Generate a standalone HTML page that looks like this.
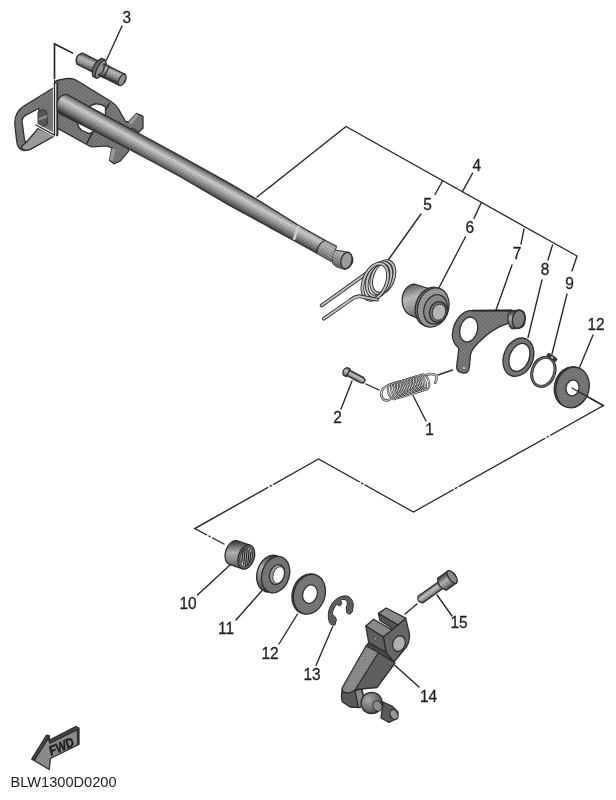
<!DOCTYPE html>
<html><head><meta charset="utf-8"><title>BLW1300D0200</title>
<style>
html,body{margin:0;padding:0;background:#fff;}
svg{display:block;}
text{font-family:"Liberation Sans",Arial,sans-serif;fill:#1c1c1c;}
#labels text{stroke:#1c1c1c;stroke-width:0.3;}
.l{stroke:#262626;stroke-width:1.35;fill:none;stroke-linecap:round;}
.o{stroke:#2e2e2e;stroke-width:1.3;stroke-linejoin:round;}
</style></head><body>
<svg width="616" height="800" viewBox="0 0 616 800">
<defs>
<pattern id="dots" width="4" height="4" patternUnits="userSpaceOnUse"><rect width="4" height="4" fill="#6f6f6f"/><circle cx="1" cy="1" r="0.6" fill="#9a9a9a"/><circle cx="3" cy="3" r="0.6" fill="#9a9a9a"/></pattern>
<pattern id="dotsL" width="3" height="3" patternUnits="userSpaceOnUse"><rect width="3" height="3" fill="#858585"/><circle cx="1" cy="1" r="0.6" fill="#b0b0b0"/></pattern>
<pattern id="dotsD" width="4" height="4" patternUnits="userSpaceOnUse"><rect width="4" height="4" fill="#5a5a5a"/><circle cx="1" cy="1" r="0.6" fill="#808080"/></pattern>
<linearGradient id="cyl" x1="0" y1="0" x2="0" y2="1"><stop offset="0" stop-color="#2c2c2c"/><stop offset="0.14" stop-color="#5a5a5a"/><stop offset="0.42" stop-color="#b0b0b0"/><stop offset="0.72" stop-color="#858585"/><stop offset="0.9" stop-color="#5a5a5a"/><stop offset="1" stop-color="#333"/></linearGradient>
<pattern id="dotsO" width="3" height="3" patternUnits="userSpaceOnUse" patternTransform="rotate(-28.8)"><circle cx="1" cy="1" r="0.55" fill="#fff" fill-opacity="0.28"/><circle cx="2.5" cy="2.5" r="0.5" fill="#000" fill-opacity="0.18"/></pattern>
<radialGradient id="ball" cx="0.35" cy="0.35" r="0.8"><stop offset="0" stop-color="#a8a8a8"/><stop offset="0.5" stop-color="#767676"/><stop offset="1" stop-color="#3a3a3a"/></radialGradient>
<linearGradient id="cylS" gradientUnits="userSpaceOnUse" x1="185.3" y1="156.4" x2="174.7" y2="175.6"><stop offset="0" stop-color="#1e1e1e"/><stop offset="0.1" stop-color="#3e3e3e"/><stop offset="0.22" stop-color="#808080"/><stop offset="0.42" stop-color="#cacaca"/><stop offset="0.62" stop-color="#a0a0a0"/><stop offset="0.85" stop-color="#626262"/><stop offset="1" stop-color="#2a2a2a"/></linearGradient>
<linearGradient id="cylL" x1="0" y1="0" x2="0" y2="1"><stop offset="0" stop-color="#555"/><stop offset="0.35" stop-color="#c0c0c0"/><stop offset="0.7" stop-color="#999"/><stop offset="1" stop-color="#555"/></linearGradient>
<pattern id="dotsA" width="4" height="4" patternUnits="userSpaceOnUse"><rect width="4" height="4" fill="#868686"/><circle cx="1" cy="1" r="0.6" fill="#a8a8a8"/><circle cx="3" cy="3" r="0.6" fill="#a8a8a8"/></pattern>
<pattern id="knurl" width="2.6" height="2.6" patternUnits="userSpaceOnUse" patternTransform="rotate(28)"><rect width="2.6" height="2.6" fill="#c8c8c8" fill-opacity="0.45"/><path d="M0,0 L2.6,0 M0,0 L0,2.6" stroke="#222" stroke-width="0.7" stroke-opacity="0.55"/></pattern>
<filter id="soft" x="0" y="0" width="616" height="800" filterUnits="userSpaceOnUse"><feGaussianBlur stdDeviation="0.45"/></filter>
<linearGradient id="cylM" x1="0" y1="0" x2="0.25" y2="1"><stop offset="0" stop-color="#3a3a3a"/><stop offset="0.15" stop-color="#6e6e6e"/><stop offset="0.4" stop-color="#b8b8b8"/><stop offset="0.7" stop-color="#909090"/><stop offset="0.9" stop-color="#626262"/><stop offset="1" stop-color="#3a3a3a"/></linearGradient>
</defs>
<rect width="616" height="800" fill="#fff"/>
<g id="all" filter="url(#soft)">
<!--LINES-->
<g id="lines" class="l">
<path d="M72.5,53 L54.5,43.8 L54.5,78.6"/>
<path d="M122,26 L106.5,60"/>
<path d="M257,197 L346,126.5 L577,256 L572,271"/>
<path d="M472.6,173.2 L462.4,191.6"/>
<path d="M442.5,181 L435,194.5"/>
<path d="M421,214 L387.5,261"/>
<path d="M481,203.2 L474,218.4"/>
<path d="M465.5,236.8 L436.5,292.5"/>
<path d="M524,229 L521,244"/>
<path d="M512,265 L496,310"/>
<path d="M552.5,245 L548,260"/>
<path d="M542,280 L528,337.5"/>
<path d="M567,294 L552,354"/>
<path d="M593,335 L579.5,367.5"/>
<path d="M572,388 L603.4,405.6 L413.4,512 L318.5,459 L194.8,528.6 L224,544"/>
<path d="M341,409 L352,381"/>
<path d="M366,384 L379,390"/>
<path d="M413,395.5 L426,421"/>
<path d="M438,375 L452.5,370"/>
<path d="M197.5,595 L230,565"/>
<path d="M236,620 L262.5,590"/>
<path d="M279,644 L297.5,614"/>
<path d="M316,665.5 L332.7,626.5"/>
<path d="M419,687 L395,665.4"/>
<path d="M452,616 L437,595"/>
<path d="M405,614 L417,604"/>
</g>
<g id="gaps">
<path d="M550.1,435.5 L545.3,438.1" stroke="#fff" stroke-width="2.6" fill="none"/><path d="M548.3,436.5 L547.1,437.1" class="l"/>
<path d="M458.5,486.7 L453.7,489.4" stroke="#fff" stroke-width="2.6" fill="none"/><path d="M456.7,487.7 L455.5,488.4" class="l"/>
<path d="M364.5,484.7 L359.7,482.0" stroke="#fff" stroke-width="2.6" fill="none"/><path d="M362.7,483.7 L361.5,483.0" class="l"/>
<path d="M273.1,484.5 L268.3,487.2" stroke="#fff" stroke-width="2.6" fill="none"/><path d="M271.3,485.6 L270.1,486.2" class="l"/>
<path d="M207.1,535.1 L212.0,537.6" stroke="#fff" stroke-width="2.6" fill="none"/><path d="M208.9,536.0 L210.1,536.7" class="l"/>
</g>
<!--LABELS-->
<g id="labels" font-size="16.6" text-anchor="middle" opacity="0.99">
<text transform="translate(126.7,23.4) scale(0.93,1)">3</text>
<text transform="translate(476.7,170.9) scale(0.93,1)">4</text>
<text transform="translate(427.5,209.9) scale(0.93,1)">5</text>
<text transform="translate(469.8,233.1) scale(0.93,1)">6</text>
<text transform="translate(517.0,259.4) scale(0.93,1)">7</text>
<text transform="translate(545.0,275.4) scale(0.93,1)">8</text>
<text transform="translate(569.5,289.4) scale(0.93,1)">9</text>
<text transform="translate(596.0,329.9) scale(0.93,1)">12</text>
<text transform="translate(337.5,423.4) scale(0.93,1)">2</text>
<text transform="translate(429.5,434.9) scale(0.93,1)">1</text>
<text transform="translate(188.0,609.4) scale(0.93,1)">10</text>
<text transform="translate(226.0,634.4) scale(0.93,1)">11</text>
<text transform="translate(270.0,659.4) scale(0.93,1)">12</text>
<text transform="translate(312.0,680.4) scale(0.93,1)">13</text>
<text transform="translate(428.6,702.4) scale(0.93,1)">14</text>
<text transform="translate(459.0,628.4) scale(0.93,1)">15</text>
</g>
<text x="10.5" y="787" font-size="15" textLength="106" lengthAdjust="spacingAndGlyphs" opacity="0.99">BLW1300D0200</text>
<!--PARTS-->
<g id="parts">
<!--A-->
<!--PLATE & LOOP-->
<g id="plate" class="o">
<!-- loop handle -->
<path fill="url(#dots)" fill-rule="evenodd" d="M54,87.5 L24.3,105.7 Q15,111.5 14.7,122.7 L16.5,140 Q17.5,150.5 24.3,150.6 Q28,150.6 31,148.9 L54,136 Z M39,108.2 L25,115.6 Q22,117.5 22,121 L24.4,139 Q25,142.8 27.2,141.6 L38.5,129 Z"/>
<path fill="#585858" stroke-width="0.9" d="M38,112 L42.5,109.5 L46.5,111 L47.5,124 L43,126.8 L38,124.5 Z"/><path fill="#8e8e8e" stroke="none" d="M38.6,118.2 L46.8,115 L47,117.4 L38.6,120.6 Z"/>
<path fill="#999" class="o" d="M38.2,128.4 L54.5,136 L30,149.5 Q24,152 21,147 L26.6,142 Z"/>
<!-- main plate -->
<path fill="url(#dots)" fill-rule="evenodd" d="M54,135.5 L54,86 Q54,81 59,80 L66,78.7 Q72,78 76,80 L111,101.5 Q116,104.5 118.5,109 L125.5,121.5 L128.5,122 L136.5,113.4 L143,116.3 L143,128 L138.7,132.4 L132,128 L128,140 L128.5,151.4 L120.4,160.9 L113.9,163.8 L109.5,160.2 L112,148 L107,145.8 L93,146.8 Q90,146.6 88,145.2 L57.8,128.4 L57.5,135.5 L54,135.5 Z M88,110 Q89,105 95,104 Q101,103.5 105.5,107 L105.5,116 L96,116 Z M77,121 L96,130 L93,132.2 L89.5,133.6 L82,130.5 Q78.5,128 77.5,124 Z"/>
<path fill="#9a9a9a" stroke="none" d="M128.5,122 L136.5,113.4 L138.5,116 L131.5,124.5 Z M112,148.5 L115.5,149.5 L112.5,161 L109.5,160 Z"/>
<path class="l" d="M109.5,103 L105.8,109.7 M93,131.6 L86.8,143.5 M57.5,83 L57.5,134"/>
</g>
<!--SHAFT-->
<g id="shaft">
<path class="o" fill="url(#cylS)" d="M66.8,94.4 L100,112.6 L140,134 L180,155.8 L230,183.6 L260,201.2 L298,225 L325,240.3 L316.8,253.3 L293.3,240.3 L260,222 L230,205.7 L180,176.5 L140,155 L100,134 L60,114 Q55,108 57.5,101 Q61,94 66.8,94.4 Z"/>
<path fill="url(#dotsO)" stroke="none" d="M66.8,94.4 L100,112.6 L140,134 L180,155.8 L230,183.6 L260,201.2 L298,225 L325,240.3 L316.8,253.3 L293.3,240.3 L260,222 L230,205.7 L180,176.5 L140,155 L100,134 L60,114 Z"/>
<path d="M298.6,226 L293.8,239.8" stroke="#d0d0d0" stroke-width="2.6" fill="none"/>
<path class="o" fill="url(#cylS)" d="M325,240.3 L336.5,246.3 L331.4,261.4 L316.8,253.3 Q316,246 325,240.3 Z"/>
<path class="o" fill="url(#cylS)" d="M335,250.2 L348.5,252.3 Q353.5,256 352.6,262 Q350,268.5 344.4,269.2 L337,267 L333,263.5 Q330.8,257 335,250.2 Z"/>
<path fill="url(#knurl)" stroke="none" d="M325,240.3 L336.5,246.3 L331.4,261.4 L316.8,253.3 Z"/><path fill="url(#knurl)" stroke="none" d="M335,250.2 L348.5,252.3 L344.4,269.2 L337,267 L333,263.5 Q330.8,257 335,250.2 Z"/><ellipse cx="346.4" cy="260.6" rx="5.4" ry="8.4" transform="rotate(14 346.4 260.6)" class="o" fill="#9a9a9a"/>
</g>
<!--PIN 3-->
<g id="pin3" transform="translate(79.7,58.6) rotate(26.6)">
<path class="o" fill="url(#cylM)" d="M0,-6.2 L47.5,-6.2 Q50.8,-3 50.8,0 Q50.8,3 47.5,6.2 L0,6.2 Q-3.2,3 -3.2,0 Q-3.2,-3 0,-6.2 Z"/>
<path fill="url(#dotsO)" stroke="none" d="M0,-6.2 L47.5,-6.2 L47.5,6.2 L0,6.2 Z"/>
<path class="o" fill="#6a6a6a" d="M19.5,-10 L23.5,-10 Q27,-5 27,0 Q27,5 23.5,10 L19.5,10 Q16,5 16,0 Q16,-5 19.5,-10 Z"/>
<ellipse cx="23.5" cy="0" rx="3.6" ry="9.8" class="o" fill="#8e8e8e" stroke-width="0.9"/>
<path fill="url(#cylM)" class="o" stroke-width="0.9" d="M24,-6.2 L30,-6.2 L30,6.2 L24,6.2 Q26.5,3 26.5,0 Q26.5,-3 24,-6.2 Z"/>
<ellipse cx="47.5" cy="0" rx="3" ry="6.2" class="o" fill="#8f8f8f"/>
</g>
<!-- white-haloed leader over plate -->
<path d="M54.5,84 L54.5,135 L36,125" stroke="#fff" stroke-width="3.2" fill="none"/>
<path class="l" d="M72.5,53 L54.5,43.8 L54.5,78.6 M54.5,80.6 L54.5,81.6 M54.5,83.6 L54.5,135 L36,125"/>
<!--/A-->
<!--B-->
<!--SPRING 5-->
<g id="spring5" fill="none" stroke-linecap="round">
<g stroke="#2a2a2a" stroke-width="3.7"><path d="M365.5,274 L321.6,305.5"/></g><g stroke="#c4c4c4" stroke-width="1.9"><path d="M365.5,274 L321.6,305.5"/></g>
<g stroke="#2a2a2a" stroke-width="3.7"><ellipse cx="382.8" cy="277.3" rx="10.5" ry="17" transform="rotate(22 382.8 277.3)"/></g><g stroke="#c4c4c4" stroke-width="1.9"><ellipse cx="382.8" cy="277.3" rx="10.5" ry="17" transform="rotate(22 382.8 277.3)"/></g>
<g stroke="#2a2a2a" stroke-width="3.7"><ellipse cx="379" cy="279.5" rx="11" ry="18" transform="rotate(22 379 279.5)"/></g><g stroke="#c4c4c4" stroke-width="1.9"><ellipse cx="379" cy="279.5" rx="11" ry="18" transform="rotate(22 379 279.5)"/></g>
<g stroke="#2a2a2a" stroke-width="3.7"><ellipse cx="375.2" cy="281.7" rx="11.5" ry="19" transform="rotate(22 375.2 281.7)"/></g><g stroke="#c4c4c4" stroke-width="1.9"><ellipse cx="375.2" cy="281.7" rx="11.5" ry="19" transform="rotate(22 375.2 281.7)"/></g>
<g stroke="#2a2a2a" stroke-width="3.7"><path d="M377,299.6 Q366,297.5 359,296.2 Q354,297 350,300.4 L323.8,318.7"/></g><g stroke="#c4c4c4" stroke-width="1.9"><path d="M377,299.6 Q366,297.5 359,296.2 Q354,297 350,300.4 L323.8,318.7"/></g>
</g>
<!--COLLAR 6-->
<g id="collar6" class="o">
<path fill="url(#cylM)" d="M414.4,284.2 A12.5,16 0 0 0 412.7,316 L419,319.5 L430,323.5 L430,289 Z"/>
<path fill="url(#dotsO)" stroke="none" d="M414.4,284.2 A12.5,16 0 0 0 412.7,316 L419,319.5 L430,323.5 L430,289 Z"/>
<ellipse cx="431" cy="306.8" rx="15.3" ry="20" transform="rotate(18 431 306.8)" fill="#7c7c7c"/>
<ellipse cx="433.2" cy="307.5" rx="15.3" ry="20" transform="rotate(18 433.2 307.5)" fill="#959595"/>
<ellipse cx="433.2" cy="307.5" rx="15.3" ry="20" transform="rotate(18 433.2 307.5)" fill="url(#dotsO)" stroke="none"/>
<ellipse cx="435.5" cy="309.4" rx="11.4" ry="15" transform="rotate(18 435.5 309.4)" fill="#888"/>
<ellipse cx="438.3" cy="312" rx="8.8" ry="10.4" transform="rotate(18 438.3 312)" fill="#747474"/>
<ellipse cx="439" cy="312.2" rx="6.6" ry="8.2" transform="rotate(18 439 312.2)" fill="#b4b4b4" stroke-width="0.9"/>
</g>
<!--/B-->
<!--C-->
<!--LEVER 7-->
<g id="lever7" class="o">
<path fill="url(#dots)" d="M470,310.6 L513,310.3 L515,316 L508,323.4 Q493,328 479,342 Q472,349 470.6,354 L469.3,367.5 Q468.5,373.5 463.5,373.2 Q457,372.5 456.6,367 L458.9,348.2 Q452.5,343 452.3,335 Q453,323 460.5,315.5 Q465,311 470,310.6 Z"/>
<ellipse cx="468.7" cy="329.5" rx="8.8" ry="12.6" transform="rotate(15 468.7 329.5)" fill="#fff"/>
<path fill="#262626" stroke="none" d="M472,309.8 L512,309.6 L512,311.6 L472,311.6 Z"/>
<path fill="url(#cyl)" d="M508,318.5 Q507,313 512.5,311 L519.5,310 Q524.5,310.5 525.3,316.5 L524.8,322.5 Q523.8,327.5 518.5,328.3 L512,328.8 Q508.2,326 508,318.5 Z"/>
<ellipse cx="518.6" cy="319.2" rx="6.2" ry="9" transform="rotate(10 518.6 319.2)" fill="#7c7c7c"/>
<circle cx="464" cy="368" r="1" fill="#ddd" stroke="none"/>
</g>
<!--RING 8-->
<g id="ring8" class="o">
<ellipse cx="518.4" cy="357.2" rx="14.6" ry="19.8" transform="rotate(22 518.4 357.2)" fill="url(#dots)"/>
<ellipse cx="519.4" cy="357.4" rx="9.8" ry="14.6" transform="rotate(22 519.4 357.4)" fill="#fff"/>
</g>
<!--CIRCLIP 9-->
<g id="clip9" fill="none" stroke-linecap="round">
<ellipse cx="543.4" cy="371.8" rx="11.2" ry="15" transform="rotate(20 543.4 371.8)" stroke="#333" stroke-width="3"/>
<ellipse cx="543.4" cy="371.8" rx="11.2" ry="15" transform="rotate(20 543.4 371.8)" stroke="#808080" stroke-width="0.9"/>
<path d="M549,355.5 L552,357.3 L555,359.5" stroke="#333" stroke-width="4.6"/>
<path d="M551.6,357.2 L552.6,357.8" stroke="#fff" stroke-width="1.3"/>
</g>
<!--WASHER 12 upper-->
<g id="washer12a" class="o">
<ellipse cx="571" cy="387" rx="16.5" ry="20.5" transform="rotate(14 571 387)" fill="#4a4a4a"/>
<ellipse cx="572.5" cy="387.5" rx="16.5" ry="20.5" transform="rotate(14 572.5 387.5)" fill="url(#dots)"/>
<ellipse cx="572.5" cy="388" rx="6.5" ry="8" transform="rotate(14 572.5 388)" fill="#fff"/>
</g>
<path class="l" d="M572,388 L603.4,405.6"/>
<!--PIN 2-->
<g id="pin2" transform="translate(347.2,372.3) rotate(28)">
<path class="o" fill="url(#cylL)" d="M0,-3 L16.5,-3 L19.5,-1.8 L19.5,1.8 L16.5,3 L0,3 Z"/>
<path class="o" fill="url(#cylL)" d="M-2.3,-4.2 L1.2,-4.2 L1.2,4.2 L-2.3,4.2 Q-4.3,2 -4.3,0 Q-4.3,-2 -2.3,-4.2 Z"/>
</g>
<!--SPRING 1-->
<g id="spring1" fill="none" stroke-linecap="round">
<path d="M391.5,383 L423,374.3 L427.5,389.5 L394,399.5 Z" fill="#c4c4c4" stroke="none"/>
<g stroke="#303030" stroke-width="2.4"><path d="M392,397.5 Q388.5,401.5 384.8,400.2 Q380.2,398 381.6,391.5 Q384,385.2 392.5,384.6"/></g><g stroke="#cfcfcf" stroke-width="1.2"><path d="M392,397.5 Q388.5,401.5 384.8,400.2 Q380.2,398 381.6,391.5 Q384,385.2 392.5,384.6"/></g>
<g stroke="#303030" stroke-width="2.4"><path d="M425,375.3 Q432,372.8 435.5,375 Q438,378 435,382.8"/></g><g stroke="#cfcfcf" stroke-width="1.2"><path d="M425,375.3 Q432,372.8 435.5,375 Q438,378 435,382.8"/></g>
<g stroke="#303030" stroke-width="2.0"><ellipse cx="392.5" cy="391.6" rx="4.3" ry="8" transform="rotate(-17 392.5 391.6)"/></g><g stroke="#cfcfcf" stroke-width="0.9"><ellipse cx="392.5" cy="391.6" rx="4.3" ry="8" transform="rotate(-17 392.5 391.6)"/></g>
<g stroke="#303030" stroke-width="2.0"><ellipse cx="395.7" cy="390.6" rx="4.3" ry="8" transform="rotate(-17 395.7 390.6)"/></g><g stroke="#cfcfcf" stroke-width="0.9"><ellipse cx="395.7" cy="390.6" rx="4.3" ry="8" transform="rotate(-17 395.7 390.6)"/></g>
<g stroke="#303030" stroke-width="2.0"><ellipse cx="398.9" cy="389.7" rx="4.3" ry="8" transform="rotate(-17 398.9 389.7)"/></g><g stroke="#cfcfcf" stroke-width="0.9"><ellipse cx="398.9" cy="389.7" rx="4.3" ry="8" transform="rotate(-17 398.9 389.7)"/></g>
<g stroke="#303030" stroke-width="2.0"><ellipse cx="402.1" cy="388.7" rx="4.3" ry="8" transform="rotate(-17 402.1 388.7)"/></g><g stroke="#cfcfcf" stroke-width="0.9"><ellipse cx="402.1" cy="388.7" rx="4.3" ry="8" transform="rotate(-17 402.1 388.7)"/></g>
<g stroke="#303030" stroke-width="2.0"><ellipse cx="405.3" cy="387.8" rx="4.3" ry="8" transform="rotate(-17 405.3 387.8)"/></g><g stroke="#cfcfcf" stroke-width="0.9"><ellipse cx="405.3" cy="387.8" rx="4.3" ry="8" transform="rotate(-17 405.3 387.8)"/></g>
<g stroke="#303030" stroke-width="2.0"><ellipse cx="408.5" cy="386.8" rx="4.3" ry="8" transform="rotate(-17 408.5 386.8)"/></g><g stroke="#cfcfcf" stroke-width="0.9"><ellipse cx="408.5" cy="386.8" rx="4.3" ry="8" transform="rotate(-17 408.5 386.8)"/></g>
<g stroke="#303030" stroke-width="2.0"><ellipse cx="411.7" cy="385.8" rx="4.3" ry="8" transform="rotate(-17 411.7 385.8)"/></g><g stroke="#cfcfcf" stroke-width="0.9"><ellipse cx="411.7" cy="385.8" rx="4.3" ry="8" transform="rotate(-17 411.7 385.8)"/></g>
<g stroke="#303030" stroke-width="2.0"><ellipse cx="414.9" cy="384.9" rx="4.3" ry="8" transform="rotate(-17 414.9 384.9)"/></g><g stroke="#cfcfcf" stroke-width="0.9"><ellipse cx="414.9" cy="384.9" rx="4.3" ry="8" transform="rotate(-17 414.9 384.9)"/></g>
<g stroke="#303030" stroke-width="2.0"><ellipse cx="418.1" cy="383.9" rx="4.3" ry="8" transform="rotate(-17 418.1 383.9)"/></g><g stroke="#cfcfcf" stroke-width="0.9"><ellipse cx="418.1" cy="383.9" rx="4.3" ry="8" transform="rotate(-17 418.1 383.9)"/></g>
<g stroke="#303030" stroke-width="2.0"><ellipse cx="421.3" cy="383.0" rx="4.3" ry="8" transform="rotate(-17 421.3 383.0)"/></g><g stroke="#cfcfcf" stroke-width="0.9"><ellipse cx="421.3" cy="383.0" rx="4.3" ry="8" transform="rotate(-17 421.3 383.0)"/></g>
<g stroke="#303030" stroke-width="2.0"><ellipse cx="424.5" cy="382.0" rx="4.3" ry="8" transform="rotate(-17 424.5 382.0)"/></g><g stroke="#cfcfcf" stroke-width="0.9"><ellipse cx="424.5" cy="382.0" rx="4.3" ry="8" transform="rotate(-17 424.5 382.0)"/></g>
</g>
<!--/C-->
<!--D-->
<!--BEARING 10-->
<g id="bearing10" class="o">
<path fill="url(#cyl)" d="M236.7,540.7 A8,12.4 17.5 0 0 229.3,564.3 L242.6,568.8 L250,545.2 Z"/>
<path fill="url(#dotsO)" stroke="none" d="M236.7,540.7 A8,12.4 17.5 0 0 229.3,564.3 L242.6,568.8 L250,545.2 Z"/>
<ellipse cx="246.3" cy="557" rx="8" ry="12.4" transform="rotate(17.5 246.3 557)" fill="#6a6a6a"/>
<ellipse cx="246.2" cy="557" rx="5.8" ry="9.8" transform="rotate(17.5 246.2 557)" fill="#c8c8c8" stroke-width="0.8"/>
<path class="l" stroke-width="0.55" d="M243.2,550 L241.7,562 M245.2,548.8 L243.7,564.5 M247.2,548.5 L245.7,565.5 M249.2,549.5 L247.7,565 M251,552 L249.8,562"/>
</g>
<!--SEAL 11-->
<g id="seal11" class="o">
<ellipse cx="270.8" cy="573.6" rx="13.6" ry="18.8" transform="rotate(17.5 270.8 573.6)" fill="url(#cyl)"/>
<ellipse cx="275.6" cy="574.6" rx="13.6" ry="18.6" transform="rotate(17.5 275.6 574.6)" fill="url(#dots)"/>
<ellipse cx="277" cy="574.6" rx="7.4" ry="10.2" transform="rotate(17.5 277 574.6)" fill="#9c9c9c"/>
<ellipse cx="278.6" cy="575" rx="5.4" ry="8.6" transform="rotate(17.5 278.6 575)" fill="#fff" stroke-width="0.8"/>
</g>
<!--WASHER 12 lower-->
<g id="washer12b" class="o">
<ellipse cx="308" cy="593.8" rx="15.6" ry="20.3" transform="rotate(17.5 308 593.8)" fill="#4a4a4a"/>
<ellipse cx="309.4" cy="594.2" rx="15.6" ry="20.3" transform="rotate(17.5 309.4 594.2)" fill="url(#dots)"/>
<ellipse cx="310" cy="594.2" rx="7.2" ry="9.4" transform="rotate(17.5 310 594.2)" fill="#fff"/>
</g>
<!--ECLIP 13-->
<g id="clip13">
<path fill="#5c5c5c" stroke="#2a2a2a" stroke-width="1" stroke-linejoin="round" d="M330.9,624.6 C328,621 327.5,614 329.5,608.5 C332,601.5 338,596.5 344.5,595.8 C350,595.8 353.3,600 353.3,605.5 L352.3,612 L349.4,614.4 L346.6,612.5 L346.3,607 C348.5,603 347,600 344,599.3 C342.5,599.3 341.5,599.8 340.5,600.6 L342,603.2 L339.8,606 L336.8,604.3 C334.5,606.5 332.6,610.5 332.2,614.2 L334.8,616.4 L336.5,619.5 L334.8,625.2 Z"/>
</g>
<!--BOLT 15-->
<g id="bolt15" transform="translate(420.4,599.6) rotate(-35.5)">
<path class="o" fill="url(#cylL)" d="M0,-4 L26,-4 L26,4 L0,4 Q-2.2,2 -2.2,0 Q-2.2,-2 0,-4 Z"/>
<path fill="url(#dotsO)" stroke="none" d="M0,-4 L26,-4 L26,4 L0,4 Z"/>
<path class="o" fill="url(#cyl)" d="M26.5,-7.4 L39,-7.4 Q42.5,-3.5 42.5,0 Q42.5,3.5 39,7.4 L26.5,7.4 Q23.5,3.5 23.5,0 Q23.5,-3.5 26.5,-7.4 Z"/>
<path fill="url(#dotsO)" stroke="none" d="M26.5,-7.4 L39,-7.4 L39,7.4 L26.5,7.4 Z"/>
<ellipse cx="39" cy="0" rx="3.4" ry="7.4" class="o" fill="#8a8a8a"/>
</g>
<!--LEVER 14-->
<g id="lever14" class="o">
<!-- boss bottom -->
<path fill="#5a5a5a" d="M342.4,688 Q340.5,698 342.5,702 L350,707 L360,707.5 L364,700 L362,689 Z"/>
<!-- arm side (dark) -->
<path fill="#5e5e5e" d="M378.5,652.5 L395,663 L377,687.5 L361,689 L354,690 Z"/>
<!-- under front -->
<path fill="#484848" d="M368.7,642.6 L386.2,652.3 L394,662 L378.5,652.5 L366,646 Z"/>
<!-- arm top (light) -->
<path fill="url(#dotsL)" d="M366,646 L378.5,652.5 L355,690 Q350,694 344.5,692.5 Q341.5,690.5 342.4,687.5 Z"/>
<!-- clamp block right side face -->
<path fill="#666" d="M383.3,636.8 L392,630 L398,624.7 L405.7,618.2 L409.6,634.8 Q409.5,642 406.7,646.5 L394,662 L386.2,652.3 Z"/>
<!-- front face -->
<path fill="#606060" d="M365.8,626 L383.3,636.8 L386.2,652.3 L368.7,642.6 Z"/>
<!-- top faces -->
<path fill="url(#dotsL)" d="M365.8,626 L373.6,619.2 L392,630 L383.3,636.8 Z"/>
<path fill="#555" d="M378.4,613.4 L380,620.5 L390,627 L392,630 L398,624.7 Z"/>
<path fill="url(#dotsL)" d="M378.4,613.4 L386.2,608 L405.7,618.2 L398,624.7 Z"/>
<ellipse cx="399" cy="643.6" rx="6.2" ry="8" transform="rotate(20 399 643.6)" fill="#b0b0b0"/>
<circle cx="375.5" cy="638.7" r="1.4" fill="#bbb" stroke-width="0.7"/>
<!-- neck, ball, stud -->
<path fill="#8a8a8a" d="M355,691 L361.5,689 L365.5,705 L358.5,707.5 Z"/>
<path fill="#5a5a5a" d="M383,702 L392,706 L398,712 L396,719 L389,722.5 L381,718 Z"/>
<ellipse cx="394" cy="714.5" rx="3.8" ry="5.2" transform="rotate(-25 394 714.5)" fill="#999"/>
<circle cx="371.6" cy="703" r="10.6" fill="url(#ball)"/>
<ellipse cx="377.5" cy="706" rx="4.4" ry="5.4" transform="rotate(-25 377.5 706)" fill="#8e8e8e" stroke-width="0.9"/>
</g>
<!--FWD ARROW-->
<g id="fwd" class="o">
<path fill="#484848" d="M31.7,759.2 L46.6,735.1 L49.4,735.8 L49.6,740.2 L75.8,726.7 L79,728 L79,744.2 L77.6,744.9 L77.4,729.6 L50.4,743 L48.2,738.6 L34.2,760.4 Z"/>
<path fill="url(#dotsA)" d="M34.2,760.4 L48.4,738.2 L49.8,743.2 L77.3,729.6 L77.8,744.8 L50.5,758.5 L49.2,769.5 Z"/>
<text transform="translate(51.2,755.8) rotate(-23.5) scale(0.87,1)" font-size="13.2" font-style="italic" font-weight="bold" fill="#a2a2a2" stroke="#1e1e1e" stroke-width="0.5">FWD</text>
</g>
<!--/D-->
</g>
</g>
</svg>
</body></html>
